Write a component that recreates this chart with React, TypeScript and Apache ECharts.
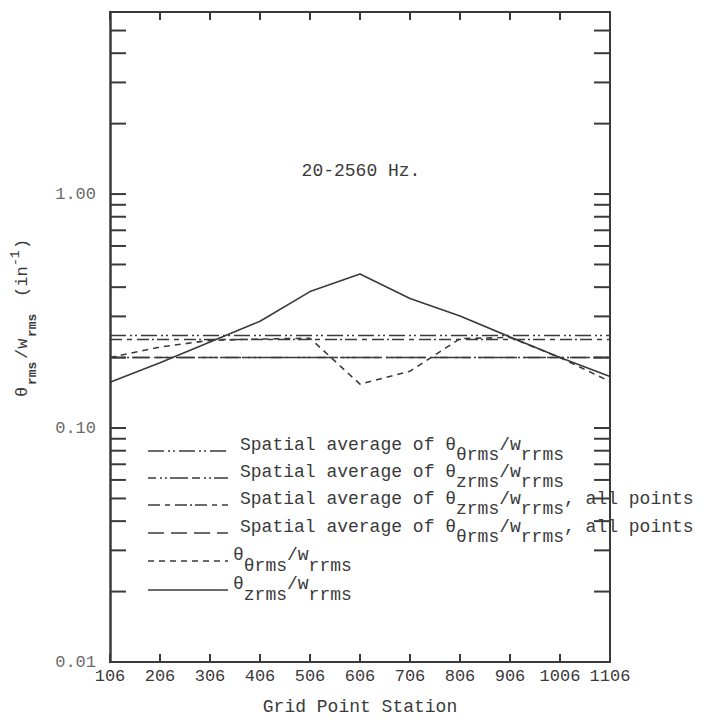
import React, { useEffect, useRef } from "react";
import * as echarts from "echarts";

const stations = ["106", "206", "306", "406", "506", "606", "706", "806", "906", "1006", "1106"];
const thetaZ = [0.157, 0.19, 0.233, 0.286, 0.383, 0.455, 0.358, 0.301, 0.245, 0.2, 0.166];
const thetaTheta = [0.2, 0.222, 0.237, 0.24, 0.242, 0.154, 0.175, 0.241, 0.244, 0.2, 0.158];
const avgThetaTheta = 0.251;
const avgThetaZ = 0.205;
const avgThetaZAll = 0.241;
const avgThetaThetaAll = 0.2;
const yTickValues = [0.02, 0.03, 0.04, 0.05, 0.06, 0.07, 0.08, 0.09, 0.1, 0.2, 0.3, 0.4, 0.5, 0.6, 0.7, 0.8, 0.9, 1, 2, 3, 4, 5];

const INK = "#3a3a3a";
const MONO = "'Liberation Mono', 'DejaVu Sans Mono', monospace";

const DASH_TT: number[] = [16, 4, 2, 3, 2, 4];
const DASH_TZ: number[] = [8, 4, 2, 3, 2, 3, 18, 4];
const DASH_TZ_ALL: number[] = [12, 5, 5, 5, 12, 3, 2, 3];
const DASH_TT_ALL: number[] = [16, 7];
const DASH_SHORT: number[] = [6, 5];

type Seg = { t: string; sub?: boolean };

function legendRow(x: number, y: number, dash: number[] | null, segs: Seg[], subDy: number) {
  const pitch = 10.8;
  const els: any[] = [];
  els.push({
    type: "line",
    shape: { x1: 148, y1: y + 6, x2: 228, y2: y + 6 },
    style: { stroke: INK, lineWidth: 1.5, lineDash: dash || undefined },
    silent: true,
  });
  let cx = x;
  for (const s of segs) {
    els.push({
      type: "text",
      x: cx,
      y: s.sub ? y + subDy : y,
      style: {
        text: s.t,
        font: `18px ${MONO}`,
        fill: INK,
        textAlign: "left",
        textVerticalAlign: "middle",
      },
      silent: true,
    });
    cx += s.t.length * pitch;
  }
  return els;
}

export default function App() {
  const ref = useRef<HTMLDivElement>(null);
  useEffect(() => {
    if (!ref.current) return;
    const chart = echarts.init(ref.current, null, { renderer: "svg" });

    const tickData: number[][] = [];
    yTickValues.forEach((v) => {
      tickData.push([0, v, 0]);
      tickData.push([0, v, 1]);
    });

    const legendEls: any[] = [
      ...legendRow(240, 445, DASH_TT, [
        { t: "Spatial average of θ" },
        { t: "θrms", sub: true },
        { t: "/w" },
        { t: "rrms", sub: true },
      ], 10),
      ...legendRow(240, 472, DASH_TZ, [
        { t: "Spatial average of θ" },
        { t: "zrms", sub: true },
        { t: "/w" },
        { t: "rrms", sub: true },
      ], 10),
      ...legendRow(240, 499, DASH_TZ_ALL, [
        { t: "Spatial average of θ" },
        { t: "zrms", sub: true },
        { t: "/w" },
        { t: "rrms", sub: true },
        { t: ", all points" },
      ], 10),
      ...legendRow(240, 527, DASH_TT_ALL, [
        { t: "Spatial average of θ" },
        { t: "θrms", sub: true },
        { t: "/w" },
        { t: "rrms", sub: true },
        { t: ", all points" },
      ], 10),
      ...legendRow(233, 555, DASH_SHORT, [
        { t: "θ" },
        { t: "θrms", sub: true },
        { t: "/w" },
        { t: "rrms", sub: true },
      ], 11),
      ...legendRow(233, 584, null, [
        { t: "θ" },
        { t: "zrms", sub: true },
        { t: "/w" },
        { t: "rrms", sub: true },
      ], 11),
    ];

    const yTitle = {
      type: "group",
      x: 22,
      y: 397,
      rotation: Math.PI / 2,
      silent: true,
      children: [
        { type: "text", x: 0, y: 0, style: { text: "θ", font: `17px ${MONO}`, fill: INK, textVerticalAlign: "middle" } },
        { type: "text", x: 12, y: 10, style: { text: "rms", font: `bold 13px ${MONO}`, fill: INK, textVerticalAlign: "middle" } },
        { type: "text", x: 38, y: 0, style: { text: "/w", font: `17px ${MONO}`, fill: INK, textVerticalAlign: "middle" } },
        { type: "text", x: 60, y: 10, style: { text: "rms", font: `bold 13px ${MONO}`, fill: INK, textVerticalAlign: "middle" } },
        { type: "text", x: 100, y: 0, style: { text: "(in", font: `17px ${MONO}`, fill: INK, textVerticalAlign: "middle" } },
        { type: "text", x: 131, y: -7, style: { text: "-1", font: `13px ${MONO}`, fill: INK, textVerticalAlign: "middle" } },
        { type: "text", x: 148, y: 0, style: { text: ")", font: `17px ${MONO}`, fill: INK, textVerticalAlign: "middle" } },
      ],
    };

    chart.setOption({
      animation: false,
      backgroundColor: "#ffffff",
      grid: { left: 110, right: 94, top: 12, bottom: 54, containLabel: false },
      xAxis: [
        {
          type: "category",
          data: stations,
          boundaryGap: false,
          position: "bottom",
          axisLine: { show: true, lineStyle: { color: INK, width: 2 } },
          axisTick: { show: true, inside: true, length: 8, lineStyle: { color: INK, width: 2 } },
          axisLabel: { color: INK, fontFamily: MONO, fontSize: 17, margin: 6, interval: 0 },
          splitLine: { show: false },
          name: "Grid Point Station",
          nameLocation: "middle",
          nameGap: 36,
          nameTextStyle: { color: INK, fontFamily: MONO, fontSize: 18, verticalAlign: "top" },
        },
        {
          type: "category",
          data: stations,
          boundaryGap: false,
          position: "top",
          axisLine: { show: true, lineStyle: { color: INK, width: 2 } },
          axisTick: { show: true, inside: true, length: 8, lineStyle: { color: INK, width: 2 } },
          axisLabel: { show: false },
          splitLine: { show: false },
        },
      ],
      yAxis: [
        {
          type: "log",
          logBase: 10,
          min: 0.01,
          max: 6,
          position: "left",
          axisLine: { show: true, lineStyle: { color: INK, width: 2.5 } },
          axisTick: { show: false },
          splitLine: { show: false },
          minorTick: { show: false },
          axisLabel: {
            color: "#6a6a6a",
            fontFamily: MONO,
            fontSize: 17,
            margin: 14,
            showMaxLabel: false,
            formatter: (v: number) => {
              const l = Math.log10(v);
              if (Math.abs(l - Math.round(l)) > 1e-6) return "";
              return v.toFixed(2);
            },
          },
        },
        {
          type: "log",
          logBase: 10,
          min: 0.01,
          max: 6,
          position: "right",
          axisLine: { show: true, lineStyle: { color: INK, width: 2 } },
          axisTick: { show: false },
          axisLabel: { show: false },
          splitLine: { show: false },
        },
      ],
      series: [
        {
          type: "custom",
          name: "ticks",
          xAxisIndex: 0,
          yAxisIndex: 0,
          silent: true,
          clip: false,
          encode: { x: 0, y: 1 },
          data: tickData,
          renderItem: (params: any, api: any) => {
            const v = api.value(1);
            const side = api.value(2);
            const y = api.coord([0, v])[1];
            const cs = params.coordSys;
            const x = side === 0 ? cs.x : cs.x + cs.width;
            const x2 = side === 0 ? x + 16 : x - 16;
            return {
              type: "line",
              shape: { x1: x, y1: y, x2, y2: y },
              style: { stroke: INK, lineWidth: 2 },
            };
          },
        },
        {
          type: "line",
          name: "θzrms/wrms",
          data: thetaZ,
          symbol: "none",
          lineStyle: { color: INK, width: 1.6, type: "solid" },
        },
        {
          type: "line",
          name: "θθrms/wrms",
          data: thetaTheta,
          symbol: "none",
          lineStyle: { color: INK, width: 1.6, type: DASH_SHORT },
          markLine: {
            silent: true,
            symbol: "none",
            label: { show: false },
            data: [
              { yAxis: avgThetaTheta, lineStyle: { color: INK, width: 1.4, type: DASH_TT } },
              { yAxis: avgThetaZ, lineStyle: { color: INK, width: 1.4, type: DASH_TZ } },
              { yAxis: avgThetaZAll, lineStyle: { color: INK, width: 1.4, type: DASH_TZ_ALL } },
              { yAxis: avgThetaThetaAll, lineStyle: { color: INK, width: 1.4, type: DASH_TT_ALL } },
            ],
          },
        },
      ],
      graphic: [
        {
          type: "text",
          x: 361,
          y: 171,
          silent: true,
          style: {
            text: "20-2560 Hz.",
            font: `18px ${MONO}`,
            fill: INK,
            textAlign: "center",
            textVerticalAlign: "middle",
          },
        },
        yTitle,
        ...legendEls,
      ],
    });

    return () => chart.dispose();
  }, []);

  return (
    <div
      ref={ref}
      style={{ position: "fixed", left: 0, top: 0, width: 704, height: 721, background: "#fff" }}
    />
  );
}
